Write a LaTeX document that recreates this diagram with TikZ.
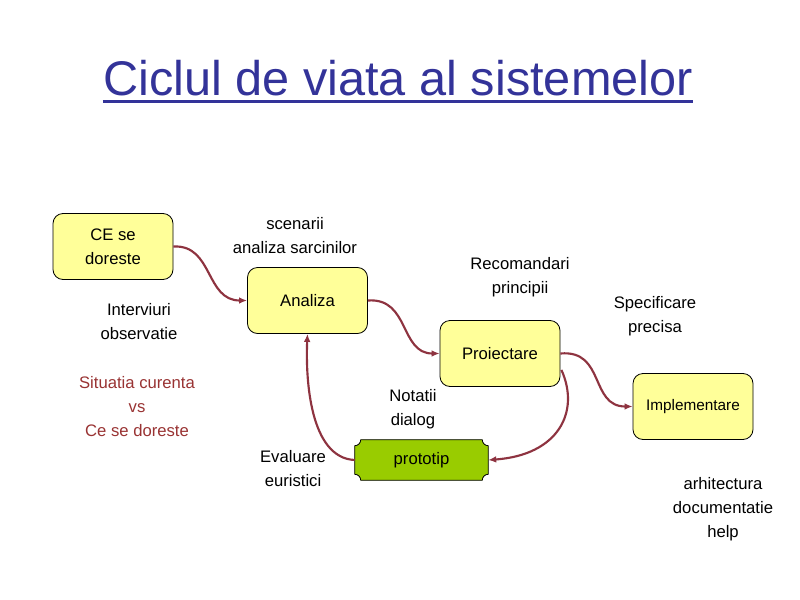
\documentclass[tikz,border=0pt]{standalone}
\usepackage{fontspec}
\setmainfont{Liberation Sans}
\usetikzlibrary{calc,arrows.meta}
\definecolor{titleblue}{HTML}{333399}
\definecolor{boxyellow}{HTML}{FFFF99}
\definecolor{protogreen}{HTML}{99CC00}
\definecolor{arrowred}{HTML}{8E3340}
\definecolor{noteRed}{HTML}{993333}
\begin{document}
\begin{tikzpicture}[x=0.75pt,y=-0.75pt,
  stagebox/.style={draw=black,line width=0.6pt,fill=boxyellow,rounded corners=7.5pt,
    minimum width=90pt,minimum height=49.5pt,align=center,
    font=\fontsize{12.5}{18}\selectfont},
  note/.style={align=center,inner sep=0pt,font=\fontsize{12.5}{18}\selectfont},
  flow/.style={draw=arrowred,line width=1.6pt,-{Latex[length=6pt,width=5pt]}}
]
\useasboundingbox[fill=white] (0,0) rectangle (800,600);

% title
\node[anchor=base,inner sep=0pt,text=titleblue,font=\fontsize{36.5}{40}\selectfont] (title) at (398,95) {Ciclul de viata al sistemelor};
\draw[titleblue,line width=2.25pt] ($(title.base west)+(0,6)$) -- ($(title.base east)+(0,6)$);

% stages
\node[stagebox] (ce) at (113,246.5) {CE se\\doreste};
\node[stagebox] (an) at (307.5,300.5) {Analiza};
\node[stagebox] (pr) at (500,353.5) {Proiectare};
\node[stagebox,font=\fontsize{11.5}{16}\selectfont] (im) at (693,406.5) {Implementare};

% prototip with concave corners
\node[minimum width=99.75pt,minimum height=30pt,inner sep=0pt] (pt) at (421.5,460) {};
\fill[protogreen,draw=black,line width=0.6pt]
  ($(pt.north west)+(6,0)$) -- ($(pt.north east)+(-6,0)$)
  .. controls ($(pt.north east)+(-6,3.3)$) and ($(pt.north east)+(-3.3,6)$) .. ($(pt.north east)+(0,6)$)
  -- ($(pt.south east)+(0,-6)$)
  .. controls ($(pt.south east)+(-3.3,-6)$) and ($(pt.south east)+(-6,-3.3)$) .. ($(pt.south east)+(-6,0)$)
  -- ($(pt.south west)+(6,0)$)
  .. controls ($(pt.south west)+(6,-3.3)$) and ($(pt.south west)+(3.3,-6)$) .. ($(pt.south west)+(0,-6)$)
  -- ($(pt.north west)+(0,6)$)
  .. controls ($(pt.north west)+(3.3,6)$) and ($(pt.north west)+(6,3.3)$) .. cycle;
\node[font=\fontsize{12.5}{18}\selectfont] (ptlabel) at (pt.center) {prototip};

% notes
\node[note] (sc) at (295,236) {scenarii\\analiza sarcinilor};
\node[note] (iv) at (139,322) {Interviuri\\observatie};
\node[note,text=noteRed] (si) at (137,407) {Situatia curenta\\vs\\Ce se doreste};
\node[note] (rc) at (520,277) {Recomandari\\principii};
\node[note] (sp) at (655,316) {Specificare\\precisa};
\node[note] (nt) at (413,409) {Notatii\\dialog};
\node[note] (ev) at (293,469) {Evaluare\\euristici};
\node[note] (ar) at (723,509) {arhitectura\\documentatie\\help};

% connectors
\draw[flow] (ce.east) .. controls ($(ce.east)+(40,-2)$) and ($(an.west)+(-42,0)$) .. (an.west);
\draw[flow] (an.east) .. controls ($(an.east)+(42,-3)$) and ($(pr.west)+(-40,0)$) .. (pr.west);
\draw[flow] (pr.east) .. controls ($(pr.east)+(45,-4)$) and ($(im.west)+(-43,0)$) .. (im.west);
\draw[flow] ($(pr.south east)+(1,-17)$) .. controls ($(pr.south east)+(20,25)$) and ($(pt.east)+(70,-5)$) .. (pt.east);
\draw[flow] (pt.west) .. controls ($(pt.west)+(-45,-2)$) and ($(an.south)+(-2,45)$) .. (an.south);
\end{tikzpicture}
\end{document}
